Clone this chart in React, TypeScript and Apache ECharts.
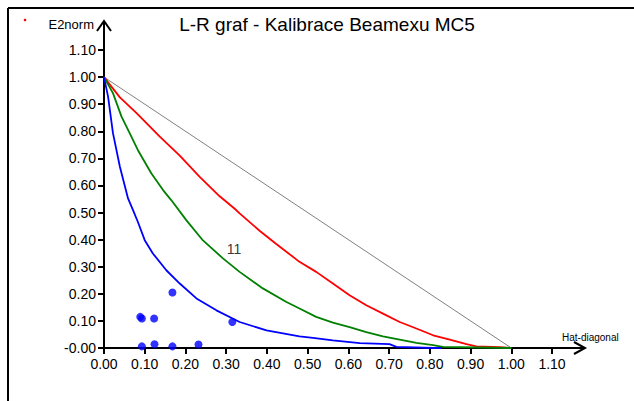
import React, { useEffect, useRef } from "react";
import * as echarts from "echarts";

const titleText = "L-R graf - Kalibrace Beamexu MC5";
const yName = "E2norm";
const xName = "Hat-diagonal";
const xTicks = ["0.00", "0.10", "0.20", "0.30", "0.40", "0.50", "0.60", "0.70", "0.80", "0.90", "1.00", "1.10"];
const yTicks = ["-0.00", "0.10", "0.20", "0.30", "0.40", "0.50", "0.60", "0.70", "0.80", "0.90", "1.00", "1.10"];

const diagonal: [number, number][] = [[0, 1], [1, 0]];

const redCurve: [number, number][] = [
  [0, 1], [0.039, 0.925], [0.08, 0.867], [0.137, 0.78], [0.186, 0.71], [0.235, 0.632],
  [0.284, 0.56], [0.321, 0.514], [0.333, 0.497], [0.382, 0.433], [0.423, 0.384],
  [0.48, 0.318], [0.521, 0.281], [0.562, 0.238], [0.603, 0.195], [0.644, 0.158], [0.685, 0.127],
  [0.726, 0.096], [0.767, 0.072], [0.808, 0.047], [0.849, 0.031], [0.89, 0.014], [0.914, 0.006],
  [0.971, 0.003], [1.0, 0],
];

const greenCurve: [number, number][] = [
  [0, 1], [0.022, 0.941], [0.043, 0.854], [0.063, 0.793], [0.083, 0.731], [0.116, 0.645],
  [0.145, 0.583], [0.165, 0.546], [0.202, 0.472], [0.243, 0.397], [0.292, 0.331],
  [0.333, 0.281], [0.39, 0.22], [0.448, 0.17], [0.48, 0.146], [0.521, 0.115], [0.562, 0.094],
  [0.603, 0.077], [0.644, 0.059], [0.685, 0.043], [0.726, 0.031], [0.767, 0.019], [0.808, 0.011],
  [0.832, 0.004], [1.0, 0],
];

const blueCurve: [number, number][] = [
  [0, 1], [0.01, 0.928], [0.022, 0.793], [0.039, 0.669], [0.059, 0.552], [0.071, 0.51],
  [0.083, 0.466], [0.1, 0.398], [0.12, 0.349], [0.153, 0.287], [0.186, 0.238], [0.227, 0.183],
  [0.276, 0.139], [0.333, 0.096], [0.399, 0.065], [0.48, 0.043], [0.513, 0.037], [0.562, 0.028],
  [0.628, 0.018], [0.701, 0.014], [0.718, 0.004], [0.808, 0.0], [0.83, 0.0],
];

const bluePoints: [number, number][] = [
  [0.089, 0.115], [0.093, 0.109], [0.123, 0.109], [0.168, 0.205], [0.315, 0.096],
  [0.093, 0.006], [0.124, 0.014], [0.168, 0.006], [0.232, 0.013],
];

const pointLabel = { value: [0.319, 0.365] as [number, number], text: "11" };

const FONT = "Liberation Sans, Arial, sans-serif";

export default function App() {
  const ref = useRef<HTMLDivElement>(null);
  useEffect(() => {
    if (!ref.current) return;
    const chart = echarts.init(ref.current, null, { renderer: "svg" });
    const gl = 104, gr = 82, gt = 50, gb = 53;
    const W = 634, H = 401;
    const xEnd = W - gr; // pixel of 1.10
    const yAxisX = gl, xAxisY = H - gb;
    const line = (x1: number, y1: number, x2: number, y2: number, w = 2, c = "#000") => ({
      type: "line", shape: { x1, y1, x2, y2 }, style: { stroke: c, lineWidth: w }, silent: true,
    });
    chart.setOption({
      animation: false,
      backgroundColor: "#fff",
      grid: { left: gl, right: gr, top: gt, bottom: gb, containLabel: false },
      xAxis: {
        type: "value", min: 0, max: 1.1, interval: 0.1,
        axisLine: { show: true, onZero: false, lineStyle: { color: "#000", width: 2 } },
        axisTick: { show: true, length: 6, lineStyle: { color: "#000", width: 2 } },
        axisLabel: {
          color: "#000", fontSize: 14, fontFamily: FONT, margin: 9,
          formatter: (v: number) => xTicks[Math.round(v * 10)] ?? "",
        },
        splitLine: { show: false },
      },
      yAxis: {
        type: "value", min: 0, max: 1.1, interval: 0.1,
        axisLine: { show: true, onZero: false, lineStyle: { color: "#000", width: 2 } },
        axisTick: { show: true, length: 6, lineStyle: { color: "#000", width: 2 } },
        axisLabel: {
          color: "#000", fontSize: 14, fontFamily: FONT, margin: 8,
          formatter: (v: number) => yTicks[Math.round(v * 10)] ?? "",
        },
        splitLine: { show: false },
      },
      series: [
        { type: "line", data: diagonal, symbol: "none", lineStyle: { color: "#808080", width: 1 }, z: 1 },
        { type: "line", data: redCurve, symbol: "none", lineStyle: { color: "#ff0000", width: 1.8 }, z: 2 },
        { type: "line", data: greenCurve, symbol: "none", lineStyle: { color: "#008000", width: 1.8 }, z: 3 },
        { type: "line", data: blueCurve, symbol: "none", lineStyle: { color: "#0000ff", width: 1.8 }, z: 4 },
        { type: "scatter", data: bluePoints, symbol: "circle", symbolSize: 8, itemStyle: { color: "#0000ff" }, z: 5 },
        {
          type: "scatter", data: [pointLabel.value], symbolSize: 0, z: 6,
          label: { show: true, position: "inside", formatter: pointLabel.text, color: "#000", fontSize: 14, fontFamily: FONT },
        },
      ],
      graphic: [
        line(8, 8, W, 8, 2),
        line(8, 8, 8, H, 2),
        line(yAxisX, gt, yAxisX, 21, 2),
        { type: "polyline", shape: { points: [[yAxisX - 7, 31], [yAxisX, 21], [yAxisX + 7, 31]] }, style: { stroke: "#000", lineWidth: 2, fill: null } },
        line(xEnd, xAxisY, 585, xAxisY, 2),
        { type: "polyline", shape: { points: [[574, xAxisY - 6], [585, xAxisY], [574, xAxisY + 6]] }, style: { stroke: "#000", lineWidth: 2, fill: null } },
        {
          type: "text", x: 327, y: 24,
          style: { text: titleText, fontSize: 19, fontFamily: FONT, fill: "#000", align: "center", verticalAlign: "middle" },
        },
        {
          type: "text", x: 94, y: 24,
          style: { text: yName, fontSize: 13, fontFamily: FONT, fill: "#000", align: "right", verticalAlign: "middle" },
        },
        { type: "circle", shape: { cx: 25, cy: 20, r: 1.3 }, style: { fill: "#ff0000" } },
        {
          type: "text", x: 562, y: 337,
          style: { text: xName, fontSize: 10, fontFamily: FONT, fill: "#000", align: "left", verticalAlign: "middle" },
        },
      ],
    });
    return () => chart.dispose();
  }, []);
  return <div ref={ref} style={{ position: "absolute", left: 0, top: 0, width: 634, height: 401 }} />;
}
